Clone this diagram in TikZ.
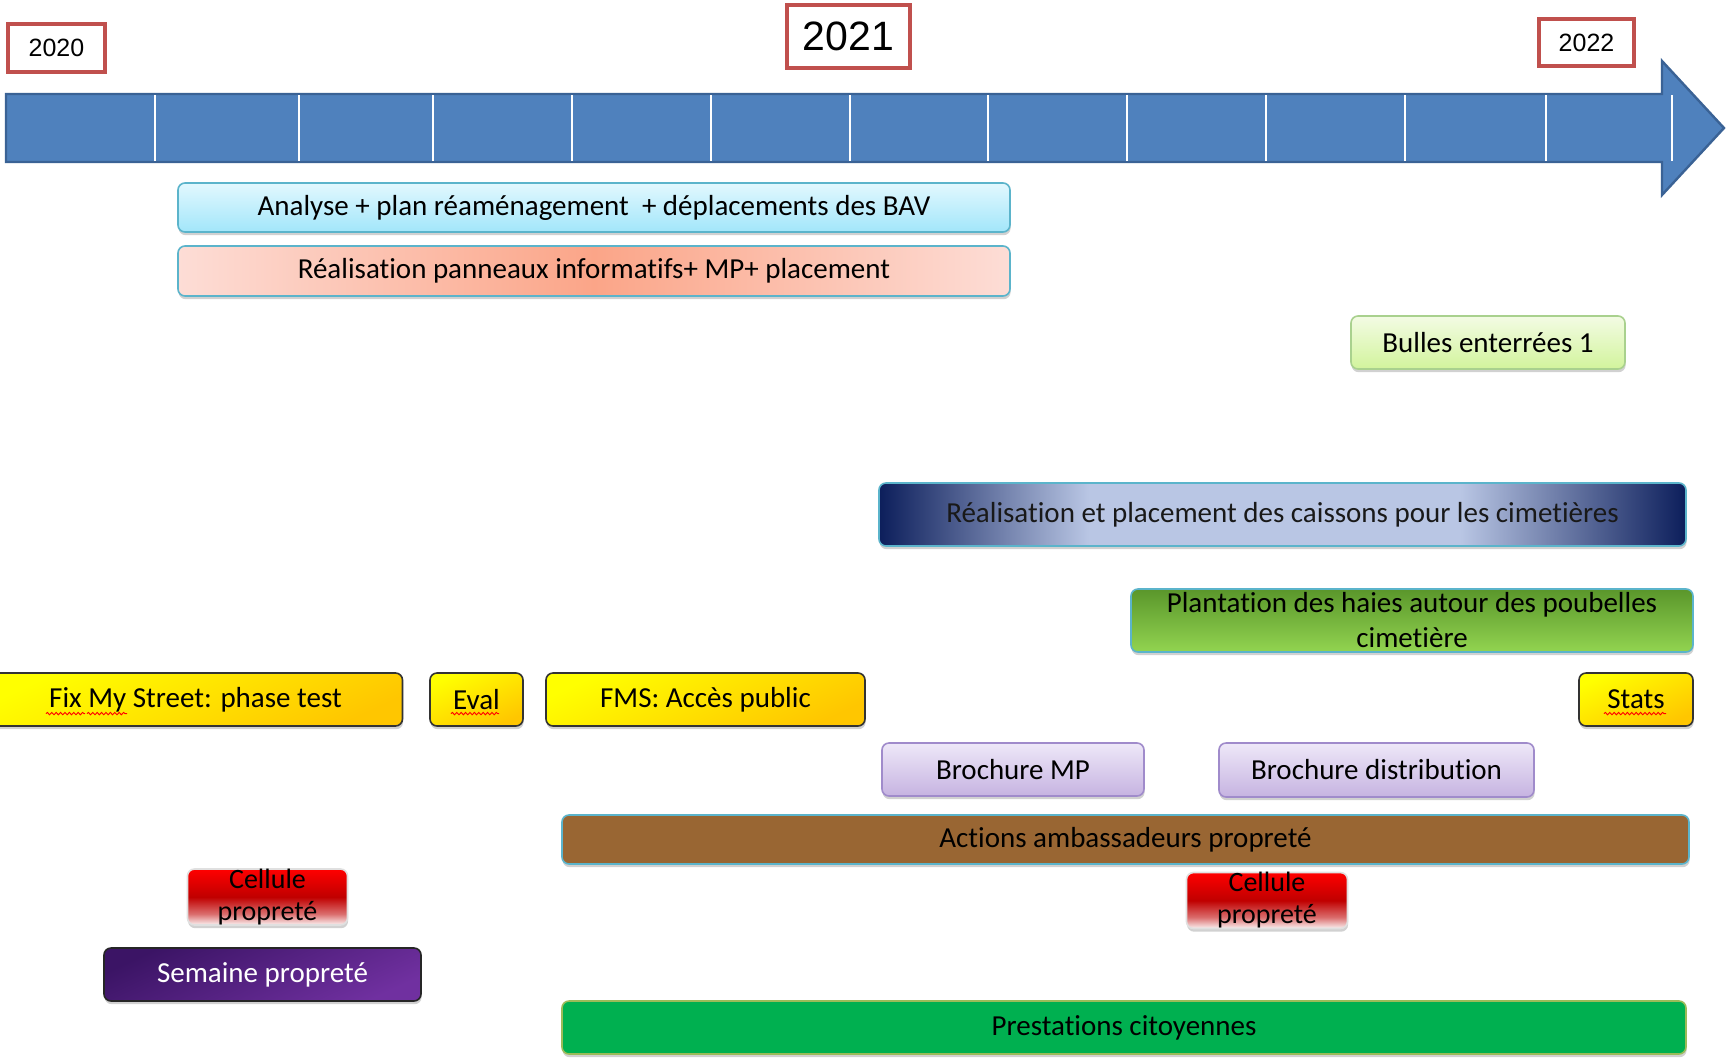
\documentclass[tikz,border=0pt]{standalone}
\usepackage{fontspec}
\setmainfont[Ligatures=NoCommon]{Carlito}
\newfontfamily\yearfont{Liberation Sans}
\usepackage{tikz}
\usetikzlibrary{shadows,decorations.pathmorphing}
\usepackage{xcolor}
\definecolor{Steel}{HTML}{4F81BD}
\definecolor{SteelDark}{HTML}{3A6295}
\definecolor{Brick}{HTML}{C0504D}
\definecolor{Teal}{HTML}{5BB4CB}
\definecolor{IceTop}{HTML}{E2F8FE}
\definecolor{IceBottom}{HTML}{A2E6FA}
\definecolor{Blush}{HTML}{FDDDD6}
\definecolor{Salmon}{HTML}{FBA588}
\definecolor{MossEdge}{HTML}{A9D18E}
\definecolor{MossTop}{HTML}{F3FBE4}
\definecolor{MossBottom}{HTML}{D2F49C}
\definecolor{Navy}{HTML}{0C1E5B}
\definecolor{Lavender}{HTML}{B9C6E4}
\definecolor{LeafTop}{HTML}{5A962B}
\definecolor{LeafBottom}{HTML}{92D450}
\definecolor{Lemon}{HTML}{FFFF00}
\definecolor{Amber}{HTML}{FFC600}
\definecolor{LilacEdge}{HTML}{A08BCB}
\definecolor{LilacTop}{HTML}{EEE8F8}
\definecolor{LilacBottom}{HTML}{C6B3E1}
\definecolor{Earth}{HTML}{996633}
\definecolor{Scarlet}{HTML}{FF0000}
\definecolor{Crimson}{HTML}{C00000}
\definecolor{Petal}{HTML}{FBF2F2}
\definecolor{PlumDark}{HTML}{3B1465}
\definecolor{Plum}{HTML}{7030A0}
\definecolor{Grass}{HTML}{00B050}
\definecolor{Olive}{HTML}{9BBB59}
\pgfdeclarehorizontalshading{caisson}{100bp}{color(0bp)=(Navy); color(25bp)=(Navy); color(38bp)=(Lavender); color(61bp)=(Lavender); color(75bp)=(Navy); color(100bp)=(Navy)}
\pgfdeclareverticalshading{cellule}{100bp}{color(0bp)=(Petal); color(25bp)=(Petal); color(35bp)=(Crimson!55!Petal); color(50bp)=(Crimson); color(75bp)=(Scarlet); color(100bp)=(Scarlet)}
\newcommand{\fsize}{\fontsize{14.5}{17.5}\selectfont}
\tikzset{
  task/.style={draw=Teal, line width=0.8pt, rounded corners=3.5pt, inner sep=0pt,
    align=center, font=\fsize, minimum height=24.5pt,
    drop shadow={shadow xshift=0.3pt, shadow yshift=-1.6pt, fill=black!45, opacity=.4}},
  fms/.style={task, draw=black!80, top color=Lemon, bottom color=Amber, shading angle=25},
  lilac/.style={task, draw=LilacEdge, top color=LilacTop, bottom color=LilacBottom},
  cellbox/.style={task, draw=black!12, shading=cellule, minimum width=80pt, minimum height=27pt,
    font=\fontsize{14}{16}\selectfont},
  year/.style={draw=Brick, line width=2pt, fill=white, inner sep=0pt},
  squiggle/.style={draw=red, line width=0.45pt, decorate,
    decoration={snake, amplitude=0.6pt, segment length=2.2pt}}
}

\begin{document}
\begin{tikzpicture}[x=1pt,y=-1pt]
    \useasboundingbox (0,0) rectangle (863,528.5);
    \fill[white] (0,0) rectangle (863,528.5);

    % years
    \node[year, minimum width=48.5pt, minimum height=24pt, font=\yearfont\fontsize{12.5}{14}\selectfont] (y2020) at (28.25,24) {2020};
    \node[year, minimum width=61.5pt, minimum height=31.5pt, font=\yearfont\fontsize{20.5}{22}\selectfont] (y2021) at (424.25,18.25) {2021};
    \node[year, minimum width=47.5pt, minimum height=23.5pt, font=\yearfont\fontsize{12.5}{14}\selectfont] (y2022) at (793.25,21.25) {2022};

    % time arrow
    \draw[draw=SteelDark, line width=1.2pt, fill=Steel, line join=miter]
        (3,47) -- (831,47) -- (831,30.5) -- (862,64) -- (831,97.5) -- (831,81) -- (3,81) -- cycle;
    \foreach \x in {77.5,149.5,216.5,286,355.5,425,494,563.5,633,702.5,773,836}
        \draw[white, line width=0.6pt] (\x,47.7) -- (\x,80.3);

    % tasks
    \node[task, top color=IceTop, bottom color=IceBottom, minimum width=416pt] (analyse) at (297,103.75)
        {Analyse + plan réaménagement~ + déplacements des BAV};
    \node[task, left color=Blush, right color=Blush, middle color=Salmon, minimum width=416pt, minimum height=25pt] (panneaux) at (297,135.5)
        {Réalisation panneaux informatifs+ MP+ placement};
    \node[task, draw=MossEdge, top color=MossTop, bottom color=MossBottom, minimum width=137pt, minimum height=26.5pt] (bulles) at (744,171.25)
        {Bulles enterrées 1};
    \node[task, shading=caisson, minimum width=403.5pt, minimum height=31.5pt, text=black!90] (caissons) at (641.25,257.25)
        {Réalisation et placement des caissons pour les cimetières};
    \node[task, top color=LeafTop, bottom color=LeafBottom, minimum width=281pt, minimum height=31.5pt] (haies) at (706,310.25)
        {Plantation des haies autour des poubelles\\cimetière};

    \node[fms, minimum width=207pt, minimum height=26.5pt] (fixtest) at (97.75,349.75) {Fix My Street: phase test};
    \node[fms, minimum width=46.5pt, minimum height=26.5pt] (eval) at (238.25,349.75) {Eval};
    \node[fms, minimum width=159.5pt, minimum height=26.5pt] (fmspublic) at (352.75,349.75) {FMS: Accès public};
    \node[fms, minimum width=57pt, minimum height=26.5pt] (stats) at (818,349.75) {Stats};

    \node[lilac, minimum width=131pt, minimum height=26.5pt] (brochmp) at (506.5,384.75) {Brochure MP};
    \node[lilac, minimum width=157.5pt, minimum height=27pt] (brochdist) at (688.25,385) {Brochure distribution};

    \node[task, fill=Earth, minimum width=563.5pt] (ambass) at (562.75,419.75) {Actions ambassadeurs propreté};
    \node[cellbox] (cellA) at (133.75,448.5) {Cellule\\propreté};
    \node[cellbox, minimum width=80.5pt] (cellB) at (633.5,450.25) {Cellule\\propreté};

    \node[task, draw=black!85, top color=PlumDark, bottom color=Plum, shading angle=25, text=white,
        minimum width=158.5pt, minimum height=26.5pt] (semaine) at (131.25,487.25) {Semaine propreté};
    \node[task, draw=Olive, fill=Grass, minimum width=562pt, minimum height=26.5pt] (citoyen) at (562,513.75) {Prestations citoyennes};

    % spell check marks
    \draw[squiggle] (23,356.8) -- (42.5,356.8);
    \draw[squiggle] (43.5,356.8) -- (63.5,356.8);
    \draw[squiggle] (225.5,356.8) -- (249.5,356.8);
    \draw[squiggle] (802,356.8) -- (833,356.8);
\end{tikzpicture}
\end{document}
